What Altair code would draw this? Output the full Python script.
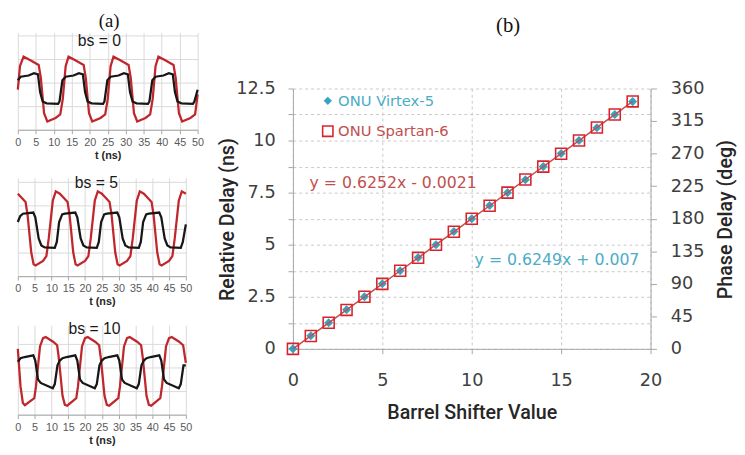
import altair as alt
import pandas as pd

# ---------------- (a) waveforms ----------------
t_ticks = [0, 5, 10, 15, 20, 25, 30, 35, 40, 45, 50]

bs0_red_t = [0, 0.6, 1.6, 3.5, 5.8, 6.4, 7.3, 8.2, 10.5, 11.8, 12.5, 13.3, 14.1, 16.0, 18.3, 18.9, 19.8, 20.7,
             23.0, 24.3, 25.0, 25.8, 26.6, 28.5, 30.8, 31.4, 32.3, 33.2, 35.5, 36.8, 37.5, 38.3, 39.1, 41.0,
             43.3, 43.9, 44.8, 45.7, 48.0, 49.3, 50]
bs0_red_v = [1.7, 2.7, 3.1, 2.95, 2.75, 2.2, 0.7, 0.35, 0.5, 0.65, 1.3, 2.7, 3.1, 2.95, 2.75, 2.2, 0.7, 0.35,
             0.5, 0.65, 1.3, 2.7, 3.1, 2.95, 2.75, 2.2, 0.7, 0.35, 0.5, 0.65, 1.3, 2.7, 3.1, 2.95,
             2.75, 2.2, 0.7, 0.35, 0.5, 0.65, 1.5]
bs0_blk_t = [0, 0.8, 3, 4.5, 5.6, 6.2, 6.9, 8, 11.2, 11.6, 12.4, 13.3, 15.5, 17, 18.1, 18.7, 19.4, 20.5, 23.7,
             24.1, 24.9, 25.8, 28, 29.5, 30.6, 31.2, 31.9, 33, 36.2, 36.6, 37.4, 38.3, 40.5, 42, 43.1, 43.7,
             44.4, 45.5, 48.7, 49.1, 50]
bs0_blk_v = [2.1, 2.25, 2.3, 2.4, 2.35, 1.6, 1.2, 1.12, 1.1, 1.2, 2.1, 2.25, 2.3, 2.4, 2.35, 1.6, 1.2, 1.12, 1.1,
             1.2, 2.1, 2.25, 2.3, 2.4, 2.35, 1.6, 1.2, 1.12, 1.1, 1.2, 2.1, 2.25, 2.3, 2.4, 2.35, 1.6,
             1.2, 1.12, 1.1, 1.2, 1.7]

bs5_red_t = [0, 1.0, 2.3, 2.9, 4.0, 4.7, 5.3, 7.5, 8.5, 9.2, 10.4, 11.3, 12.5, 13.5, 14.8, 15.4, 16.5, 17.2,
             17.8, 20.0, 21.0, 21.7, 22.9, 23.8, 25.0, 26.0, 27.3, 27.9, 29.0, 29.7, 30.3, 32.5, 33.5, 34.2,
             35.4, 36.3, 37.5, 38.5, 39.8, 40.4, 41.5, 42.2, 42.8, 45.0, 46.0, 46.7, 47.9, 48.8, 50]
bs5_red_v = [3.5, 3.35, 3.15, 2.6, 1.0, 0.5, 0.45, 0.65, 0.85, 1.6, 3.2, 3.6, 3.5, 3.35, 3.15, 2.6, 1.0, 0.5,
             0.45, 0.65, 0.85, 1.6, 3.2, 3.6, 3.5, 3.35, 3.15, 2.6, 1.0, 0.5, 0.45, 0.65, 0.85, 1.6,
             3.2, 3.6, 3.5, 3.35, 3.15, 2.6, 1.0, 0.5, 0.45, 0.65, 0.85, 1.6, 3.2, 3.6, 3.5]
bs5_blk_t = [0, 0.7, 1.5, 4.6, 5.2, 6.2, 7.0, 8.0, 11.0, 11.6, 12.3, 13.2, 14.0, 17.1, 17.7, 18.7, 19.5, 20.5,
             23.5, 24.1, 24.8, 25.7, 26.5, 29.6, 30.2, 31.2, 32.0, 33.0, 36.0, 36.6, 37.3, 38.2, 39.0, 42.1,
             42.7, 43.7, 44.5, 45.5, 48.5, 49.1, 50]
bs5_blk_v = [2.3, 2.55, 2.65, 2.7, 2.5, 1.6, 1.3, 1.22, 1.2, 1.45, 2.3, 2.62, 2.65, 2.7, 2.5, 1.6, 1.3, 1.22,
             1.2, 1.45, 2.3, 2.62, 2.65, 2.7, 2.5, 1.6, 1.3, 1.22, 1.2, 1.45, 2.3, 2.62, 2.65, 2.7,
             2.5, 1.6, 1.3, 1.22, 1.2, 1.45, 2.2]

bs10_red_t = [0, 0.8, 1.5, 2.1, 4.9, 5.4, 6.6, 7.5, 8.3, 10.5, 11.7, 12.2, 13.3, 14.0, 14.7, 17.4, 17.9, 19.1,
              20.0, 20.8, 23.0, 24.2, 24.7, 25.8, 26.5, 27.2, 29.9, 30.4, 31.6, 32.5, 33.3, 35.5, 36.7, 37.2,
              38.3, 39.0, 39.7, 42.4, 42.9, 44.1, 45.0, 45.8, 48.0, 49.2, 50]
bs10_red_v = [2.8, 1.2, 0.5, 0.4, 0.7, 1.2, 2.9, 3.25, 3.3, 3.1, 2.95, 2.4, 0.8, 0.42, 0.38, 0.7, 1.2, 2.9,
              3.25, 3.3, 3.1, 2.95, 2.4, 0.8, 0.42, 0.38, 0.7, 1.2, 2.9, 3.25, 3.3, 3.1, 2.95, 2.4,
              0.8, 0.42, 0.38, 0.7, 1.2, 2.9, 3.25, 3.3, 3.1, 2.95, 2.2]
bs10_blk_t = [0, 0.8, 2.0, 4.6, 5.2, 6.0, 6.8, 10.4, 11.0, 11.8, 12.5, 13.3, 14.5, 17.1, 17.7, 18.5, 19.3, 22.9,
              23.5, 24.3, 25.0, 25.8, 27.0, 29.6, 30.2, 31.0, 31.8, 35.4, 36.0, 36.8, 37.5, 38.3, 39.5, 42.1,
              42.7, 43.5, 44.3, 47.9, 48.5, 49.3, 50]
bs10_blk_v = [2.25, 2.4, 2.45, 2.52, 2.3, 1.5, 1.35, 1.12, 1.3, 2.1, 2.3, 2.4, 2.45, 2.52, 2.3, 1.5, 1.35, 1.12,
              1.3, 2.1, 2.3, 2.4, 2.45, 2.52, 2.3, 1.5, 1.35, 1.12, 1.3, 2.1, 2.3, 2.4, 2.45, 2.52,
              2.3, 1.5, 1.35, 1.12, 1.3, 2.1, 2.1]

panel_labels = ["bs = 0", "bs = 5", "bs = 10"]

# ---------------- (b) delay vs barrel shifter ----------------
bs_values = [0, 1, 2, 3, 4, 5, 6, 7, 8, 9, 10, 11, 12, 13, 14, 15, 16, 17, 18, 19]
delay_virtex = [0.0, 0.63, 1.25, 1.88, 2.5, 3.13, 3.75, 4.38, 5.0, 5.63, 6.25, 6.88, 7.5, 8.12, 8.75, 9.38,
                10.0, 10.62, 11.25, 11.87]
delay_spartan = [0.0, 0.62, 1.25, 1.87, 2.5, 3.12, 3.75, 4.37, 5.0, 5.62, 6.25, 6.87, 7.5, 8.13, 8.75, 9.37,
                 10.0, 10.63, 11.25, 11.88]
series_names = ["ONU Virtex-5", "ONU Spartan-6"]
x_ticks_b = [0, 5, 10, 15, 20]
y_grid_b = [0, 1.25, 2.5, 3.75, 5, 6.25, 7.5, 8.75, 10, 11.25, 12.5]
deg_ticks = [0, 45, 90, 135, 180, 225, 270, 315, 360]
eq_text = ["y = 0.6252x - 0.0021", "y = 0.6249x + 0.007"]
eq_x = [0.93, 10.16]
eq_y = [7.94, 4.28]

RED = "#c0272d"
BLK = "#171717"
GRID_A = "#d9d9d9"
CYAN = "#4bacc6"
CYAN_MK = "#35a3c4"
RED_TXT = "#c0504d"
RED_MK = "#d9232b"
AXC = "#a6a6a6"
LBL = "#404040"


def panel(red_t, red_v, blk_t, blk_v, label, w, h, ymax, gvals, lx, ly, extra=None):
    red_df = pd.DataFrame({"t": red_t, "v": red_v})
    blk_df = pd.DataFrame({"t": blk_t, "v": blk_v})
    x = alt.X("t:Q", scale=alt.Scale(domain=[0, 50], nice=False),
              axis=alt.Axis(values=t_ticks, title="t (ns)", grid=True, gridColor=GRID_A,
                            domainColor=AXC, tickColor=AXC, tickSize=4, labelPadding=3,
                            labelFlush=False, labelFont="Liberation Sans", labelFontSize=11,
                            labelColor="#595959", titleFont="Liberation Sans", titleFontSize=11,
                            titleFontWeight="bold", titleColor="#262626", titlePadding=2))
    y = alt.Y("v:Q", scale=alt.Scale(domain=[0, ymax], nice=False),
              axis=alt.Axis(values=gvals, labels=False, ticks=False, domain=False, title=None,
                            grid=True, gridColor=GRID_A))
    red = alt.Chart(red_df).mark_line(color=RED, strokeWidth=2.3).encode(x=x, y=y)
    blk = alt.Chart(blk_df).mark_line(color=BLK, strokeWidth=2.3).encode(x=x, y=y)
    txt = alt.Chart(pd.DataFrame({"s": [label]})).mark_text(
        font="Liberation Sans", fontSize=16, color="#1a1a1a", baseline="middle").encode(
        text="s:N", x=alt.value(lx), y=alt.value(ly))
    layers = [red, blk, txt]
    if extra is not None:
        layers.append(extra)
    return alt.layer(*layers).properties(width=w, height=h)


tag_a = alt.Chart(pd.DataFrame({"s": ["(a)"]})).mark_text(
    font="Liberation Serif", fontSize=19, color="#111111", baseline="top").encode(
    text="s:N", x=alt.value(93), y=alt.value(-21))

p1 = panel(bs0_red_t, bs0_red_v, bs0_blk_t, bs0_blk_v, panel_labels[0], 183, 99, 4.125,
           [0, 1, 2, 3, 4], 83, 9, extra=tag_a)
p2 = panel(bs5_red_t, bs5_red_v, bs5_blk_t, bs5_blk_v, panel_labels[1], 171, 100, 4.17,
           [0, 1, 2, 3, 4], 80, 5)
p3 = panel(bs10_red_t, bs10_red_v, bs10_blk_t, bs10_blk_v, panel_labels[2], 171, 91, 3.8,
           [0, 1, 2, 3], 78, 4)
left = alt.vconcat(p1, p2, p3, spacing=15)

# ----- right panel -----
pts = pd.DataFrame({"bs": bs_values, "virtex": delay_virtex, "spartan": delay_spartan,
                    "vs": series_names[0], "ss": series_names[1]})
xs = alt.Scale(domain=[0, 20], nice=False)
xa = alt.Axis(values=x_ticks_b, title="Barrel Shifter Value", grid=True, gridColor="#c8c8c8",
              gridDash=[3, 3], domainColor=AXC, tickColor=AXC, tickSize=5, labelPadding=18,
              labelFlush=False, labelFont="DejaVu Sans", labelFontSize=18, labelColor=LBL,
              titleFont="Roboto", titleFontWeight=500, titleFontSize=20, titleColor="#262626",
              titleY=65, titleBaseline="middle")
ys = alt.Scale(domain=[0, 12.5], nice=False)
ya = alt.Axis(values=y_grid_b, labelExpr="datum.value % 2.5 == 0 ? format(datum.value, '~g') : ''",
              grid=True, gridColor="#c8c8c8", gridDash=[3, 3], domainColor=AXC, tickColor=AXC,
              tickSize=5, labelPadding=13, labelFont="DejaVu Sans", labelFontSize=18, labelColor=LBL,
              title="Relative Delay (ns)", titleFont="Roboto", titleFontWeight=500, titleFontSize=20,
              titleColor="#262626", titleX=-66, titleY=133, titleAngle=270, titleAlign="center",
              titleBaseline="middle")

# legends end up in the top-level group, whose origin is panel (a)'s plot origin
LEG_X = 308
diam = alt.Chart(pts).mark_point(shape="diamond", filled=True, size=85, opacity=1).encode(
    x=alt.X("bs:Q", scale=xs, axis=xa),
    y=alt.Y("virtex:Q", scale=ys, axis=ya),
    fill=alt.Fill("vs:N", scale=alt.Scale(range=[CYAN_MK]),
                  legend=alt.Legend(orient="none", legendX=LEG_X, legendY=62, title=None,
                                    symbolType="diamond", symbolSize=70, symbolFillColor=CYAN_MK,
                                    labelFont="DejaVu Sans", labelFontSize=15, labelColor=CYAN,
                                    labelOffset=3, padding=0)))
line = alt.Chart(pts).mark_line(color=RED_TXT, strokeWidth=1.5).encode(
    x=alt.X("bs:Q", scale=xs, axis=xa), y=alt.Y("spartan:Q", scale=ys, axis=ya))
sq = alt.Chart(pts).mark_point(shape="square", filled=False, size=125, strokeWidth=1.6, opacity=1).encode(
    x=alt.X("bs:Q", scale=xs, axis=xa),
    y=alt.Y("spartan:Q", scale=ys, axis=ya),
    stroke=alt.Stroke("ss:N", scale=alt.Scale(range=[RED_MK]),
                      legend=alt.Legend(orient="none", legendX=LEG_X, legendY=93, title=None,
                                        symbolType="square", symbolSize=110, symbolStrokeWidth=1.6,
                                        symbolFillColor="transparent", symbolStrokeColor=RED_MK,
                                        labelFont="DejaVu Sans", labelFontSize=15, labelColor=RED_TXT,
                                        labelOffset=3, padding=0)))
eq_df = pd.DataFrame({"ex": eq_x, "ey": eq_y, "txt": eq_text, "col": [RED_TXT, CYAN]})
eq = alt.Chart(eq_df).mark_text(align="left", baseline="middle", font="DejaVu Sans", fontSize=16).encode(
    x=alt.X("ex:Q", scale=xs, axis=xa), y=alt.Y("ey:Q", scale=ys, axis=ya), text="txt:N",
    color=alt.Color("col:N", scale=None))

main = alt.layer(diam, line, sq, eq)

deg_df = pd.DataFrame({"deg": [deg_ticks[0], deg_ticks[-1]], "bs": [0, 0]})
deg = alt.Chart(deg_df).mark_point(opacity=0).encode(
    x=alt.X("bs:Q", scale=xs, axis=xa),
    y=alt.Y("deg:Q", scale=alt.Scale(domain=[0, 360], nice=False),
            axis=alt.Axis(orient="right", values=deg_ticks, grid=False, domainColor=AXC,
                          tickColor=AXC, tickSize=6, labelPadding=14, labelFont="DejaVu Sans",
                          labelFontSize=18, labelColor=LBL, title="Phase Delay (deg)",
                          titleFont="Roboto", titleFontWeight=500, titleFontSize=20,
                          titleColor="#262626", titleX=76, titleY=133, titleAngle=270,
                          titleAlign="center", titleBaseline="middle")))

right_plot = alt.layer(main, deg).resolve_scale(y="independent").properties(width=364, height=265)

# header strip above panel (b) holding its "(b)" tag
tag_b = alt.Chart(pd.DataFrame({"s": ["(b)"]})).mark_text(
    font="Liberation Serif", fontSize=21, color="#111111", baseline="top").encode(
    text="s:N", x=alt.value(219), y=alt.value(-18)).properties(width=364, height=38)

right = alt.vconcat(tag_b, right_plot, spacing=10)

chart = alt.hconcat(left, right, spacing=14).properties(
    padding={"left": 5, "top": 0, "right": 2, "bottom": 0}
).configure_view(stroke=None)

chart.save("out.html", embed_options={"renderer": "svg", "actions": False})
